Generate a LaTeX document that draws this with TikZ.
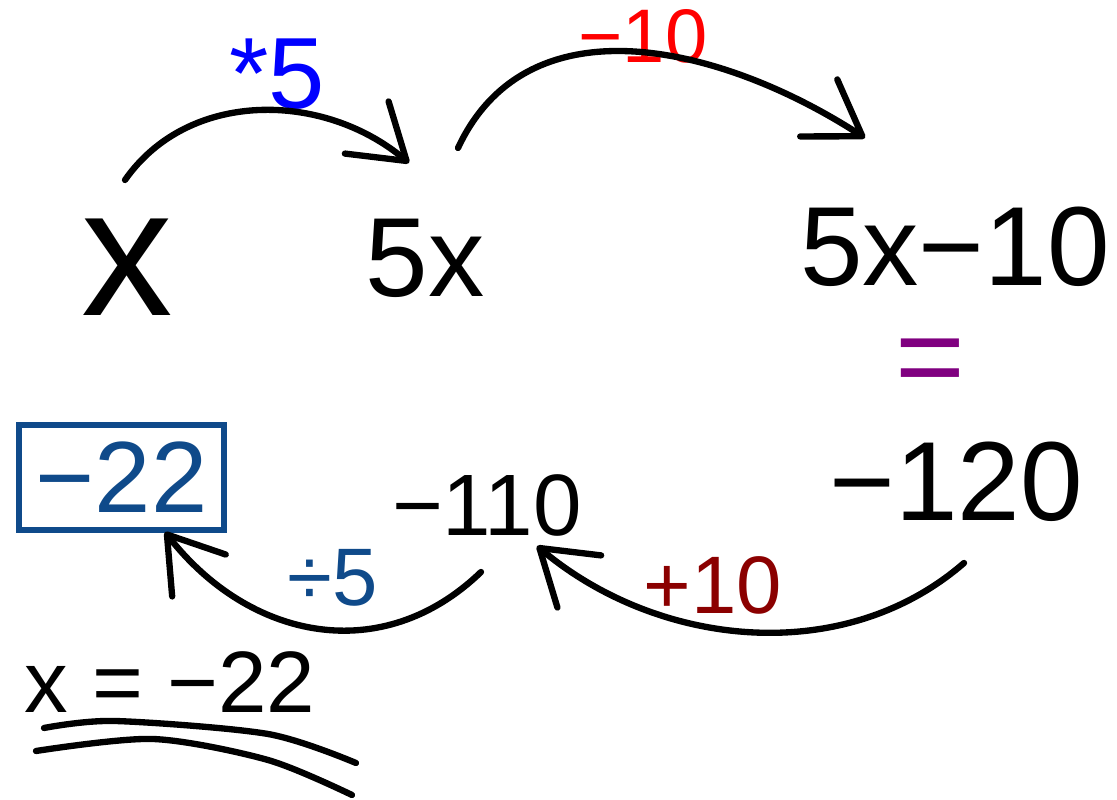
\documentclass[tikz,border=0pt]{standalone}
\usepackage{fontspec}
\setmainfont{Liberation Sans}
\definecolor{inkblue}{HTML}{0000FF}
\definecolor{inkred}{HTML}{FF0000}
\definecolor{inknavy}{HTML}{0F4A8A}
\definecolor{inkmaroon}{HTML}{8B0000}
\definecolor{inkpurple}{HTML}{800080}
\usetikzlibrary{arrows.meta,calc}
\tikzset{
    numbernode/.style={
        inner sep=0pt,
        font=\fontsize{#1}{#1}\selectfont
    },
    numbernode/.default=80,
    operationlabel/.style={
        inner sep=0pt,
        font=\fontsize{#1}{#1}\selectfont
    },
    operationlabel/.default=56,
    answerbox/.style={
        draw=inknavy,
        text=inknavy,
        line width=4.5pt,
        inner sep=0pt,
        minimum width=5.125cm,
        minimum height=2.625cm,
        font=\fontsize{72}{72}\selectfont
    },
    steparrow/.style={
        -{Straight Barb[length=13mm,width=17mm,round]},
        draw=black,
        line width=4.5pt,
        line cap=round,
        line join=round
    },
    underlinestroke/.style={
        draw=black,
        line width=4.5pt,
        line cap=round
    }
}

\begin{document}
\begin{tikzpicture}[x=0.025cm,y=0.025cm]
    \useasboundingbox (0,0) rectangle (1117,800);

    \node[numbernode=130] (xvar) at (127,533) {x};
    \node[numbernode] (fivex) at (425,542) {5x};
    \node[numbernode] (fivexminusten) at (955,553) {5x−10};
    \node[numbernode=85,text=inkpurple] (equalsign) at (930,432) {=};
    \node[numbernode] (minusonetwenty) at (956,318) {−120};
    \node[numbernode=62] (minusoneten) at (487,295) {−110};
    \node[answerbox] (answer) at (121.5,322.5) {−22};

    \node[operationlabel=72,text=inkblue] (timesfive) at (277,726) {*5};
    \node[operationlabel=54,text=inkred] (minusten) at (643,764) {−10};
    \node[operationlabel=58,text=inknavy] (dividefive) at (333,222) {÷5};
    \node[operationlabel=58,text=inkmaroon] (plusten) at (713,215) {+10};

    \node[numbernode=62] (solution) at (170,118) {x = −22};

    \draw[steparrow] ($(xvar)+(-2,87)$)
        to[out=55,in=140] ($(fivex)+(-16,95)$);
    \draw[steparrow] ($(fivex)+(33,110)$)
        to[out=65,in=147,looseness=1.05] ($(fivexminusten)+(-90,109)$);
    \draw[steparrow] ($(minusonetwenty)+(8,-81)$)
        to[out=221,in=-40,looseness=0.95] ($(minusoneten)+(50,-41)$);
    \draw[steparrow] ($(minusoneten)+(-6,-67)$)
        to[out=224,in=-52,looseness=1.1] ($(answer)+(43.5,-54.5)$);

    \draw[underlinestroke] plot[smooth] coordinates {(44,72) (115,79) (268,66) (356,37)};
    \draw[underlinestroke] plot[smooth] coordinates {(36,49) (153,61) (268,40) (352,5)};
\end{tikzpicture}
\end{document}
